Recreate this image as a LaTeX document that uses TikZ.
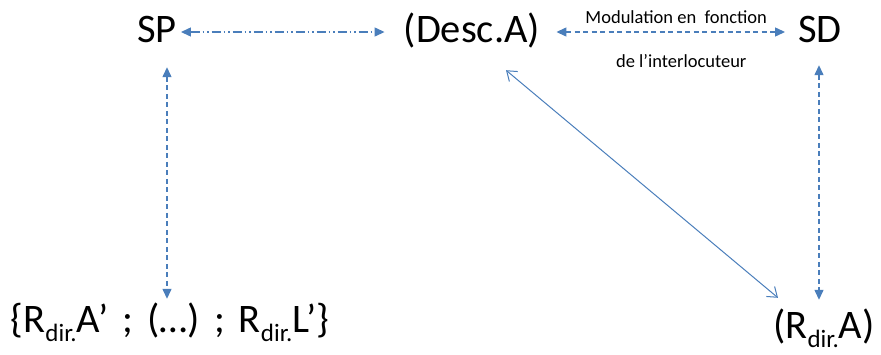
\documentclass[tikz,border=0pt]{standalone}
\usepackage{fontspec}
\setmainfont{Carlito}
\usepackage[HTML]{xcolor}
\usepackage{tikz}
\usetikzlibrary{positioning, arrows.meta}
\usetikzlibrary{calc}

\definecolor{linkblue}{HTML}{4A7EBB}
\newcommand{\rdir}{R\raisebox{-9pt}{\fontsize{25}{25}\selectfont dir.}}

\begin{document}
\begin{tikzpicture}[x=1pt, y=-1pt,
  big/.style={font=\fontsize{40.5}{42}\selectfont, anchor=base, inner xsep=3pt, inner ysep=3pt, text height=28pt, text depth=8pt},
  small/.style={font=\fontsize{18.5}{20}\selectfont, text=black, inner sep=0pt},
  dashlink/.style={linkblue, line width=1.3pt, dashed, dash pattern=on 5pt off 3.5pt, {Triangle[length=10pt,width=9pt]}-{Triangle[length=10pt,width=9pt]}},
  dotlink/.style={linkblue, line width=1.3pt, dash pattern=on 9pt off 3pt on 1.5pt off 3pt on 1.5pt off 3pt, {Triangle[length=10pt,width=9pt]}-{Triangle[length=10pt,width=9pt]}},
  plainlink/.style={linkblue, line width=1pt, {Straight Barb[length=9pt,width=13pt]}-{Straight Barb[length=9pt,width=13pt]}}]
\useasboundingbox (0,0) rectangle (881,354);

% the five items
\node[big] (sp)   at (157,42)  {SP};
\node[big] (desc) at (472,42)  {(Desc.A)};
\node[big] (sd)   at (820,42)  {SD};
\node[big] (ens)  at (170,332) {\spaceskip=14pt \{\rdir A’ ; (…) ; \rdir L’\}};
\node[big] (rdir) at (824,338) {(\rdir A)};

% top row
\draw[dotlink, shorten <=1pt, shorten >=16pt] (sp.east) -- (desc.west);
\draw[dashlink, shorten <=13pt, shorten >=10pt] (desc.east) -- (sd.west)
  node[small, midway, above=8pt, xshift=7pt] (modu) {Modulation en~~fonction}
  node[small, midway, below=22pt, xshift=12pt] (inter) {de l’interlocuteur};

% verticals
\draw[dashlink, shorten <=14pt, shorten >=2pt] ([xshift=10pt]sp.south) -- ([xshift=10pt]sp.south |- ens.north);
\draw[dashlink, shorten <=12pt, shorten >=7pt] ([xshift=-1pt]sd.south) -- ([xshift=-1pt]sd.south |- rdir.north);

% diagonal
\draw[plainlink] ($(desc.south)+(34,17)$) -- ($(rdir.north)+(-46,-9)$);
\end{tikzpicture}
\end{document}
